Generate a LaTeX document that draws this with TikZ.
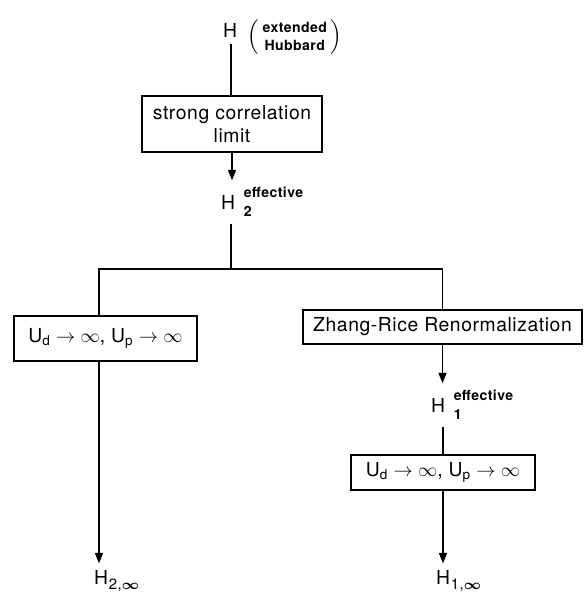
\documentclass[tikz,border=0pt]{standalone}
\usepackage{amsmath}
\usepackage{fontspec}
\setmainfont[LetterSpace=3]{TeX Gyre Heros}
\usetikzlibrary{arrows.meta,positioning}

\newcommand{\smalltxt}[1]{{\fontsize{8}{9}\selectfont\bfseries #1}}
% H with a raised label and a lowered index, kept out of the node's box
\newcommand{\Hlab}[2]{H\rlap{\hspace{5pt}\raisebox{7pt}{\smalltxt{#1}}}\rlap{\hspace{5pt}\raisebox{-4pt}{\smalltxt{#2}}}}
\newcommand{\Hinf}[1]{H\rlap{\hspace{0.5pt}\raisebox{-3pt}{{\fontsize{8.5}{9}\selectfont #1,$\boldsymbol{\infty}$}}}}

\begin{document}
\begin{tikzpicture}[x=0.02cm, y=-0.02cm, line width=1pt,
  >={Triangle[length=6pt,width=4.5pt]},
  font=\fontsize{11}{13}\selectfont,
  box/.style={draw, align=center, inner sep=0pt, line width=0.9pt}]
\useasboundingbox (0,0) rectangle (586,601);

% top: the full Hamiltonian
\node (H) at (230,30) {H};
\node[anchor=west, inner sep=0pt] (Hext) at (247,37) {$\Bigl(\,\begin{tabular}{@{}c@{}}\smalltxt{extended}\\[-2.5pt]\smalltxt{Hubbard}\end{tabular}\,\Bigr)$};
\node[box, minimum width=3.6cm, minimum height=1.12cm] (corr) at (232,124) {strong correlation\\limit};
\node (Htwo) at (228,202) {\Hlab{effective}{2}};

% branching point
\coordinate (split) at (231,269);
\coordinate (dropL) at (99,269);

% left branch
\node[box, minimum width=3.66cm, minimum height=0.9cm] (limL) at (105.5,338.5) {U$_{\text{d}}\rightarrow\infty$, U$_{\text{p}}\rightarrow\infty$};
\node (Htwoinf) at (101,581) {\Hinf{2}};

% right branch
\node[box, minimum width=5.58cm, minimum height=0.68cm] (zr) at (442.5,327) {Zhang-Rice Renormalization};
\node (Hone) at (438,405) {\Hlab{effective}{1}};
\node[box, minimum width=3.68cm, minimum height=0.7cm] (limR) at (443,472.5) {U$_{\text{d}}\rightarrow\infty$, U$_{\text{p}}\rightarrow\infty$};
\node (Honeinf) at (443,581) {\Hinf{1}};

\draw (H.south -| split) -- (split |- corr.north);
\draw[->] (corr.south) -- (corr.south |- Htwo.north);
\draw (split |- Htwo.south) -- (split);
\draw (dropL |- limL.north) -- (dropL) -- (split -| zr.north) -- (zr.north);
\draw[->] (dropL |- limL.south) -- (dropL |- Htwoinf.north);
\draw[->] (zr.south) -- (zr.south |- Hone.north);
\draw (limR.north |- Hone.south) -- (limR.north);
\draw[->] (limR.south) -- (limR.south |- Honeinf.north);
\end{tikzpicture}
\end{document}
